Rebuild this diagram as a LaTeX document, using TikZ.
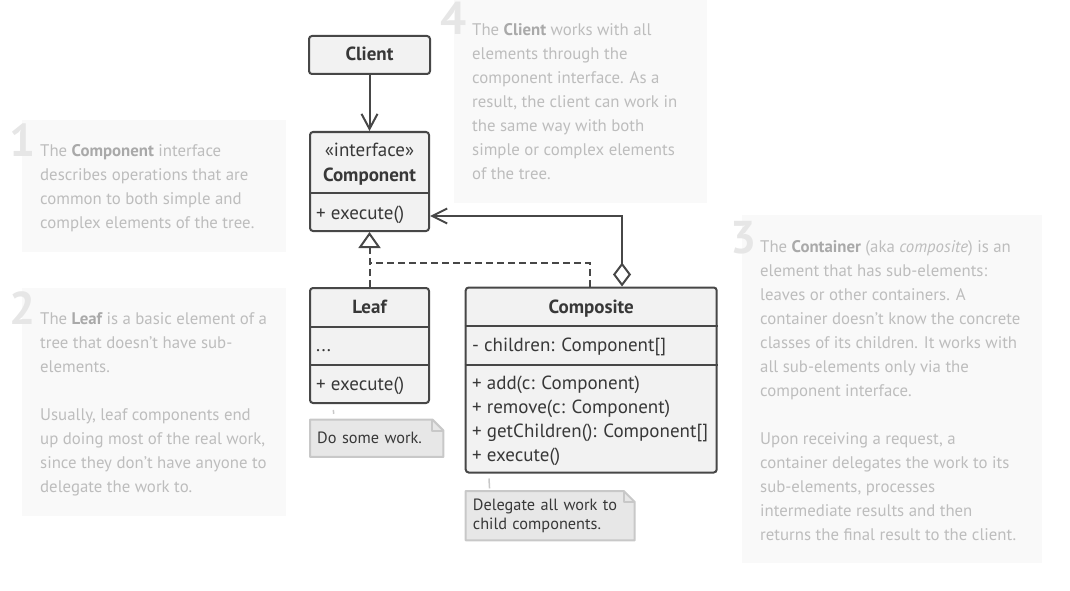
\documentclass[tikz,border=0pt]{standalone}
\usepackage{fontspec}
\setmainfont{PT Sans}
\usetikzlibrary{arrows.meta,positioning,backgrounds}
\definecolor{umlline}{HTML}{474747}
\definecolor{umltext}{HTML}{383838}
\definecolor{umlfill}{HTML}{F2F2F2}
\definecolor{notefill}{HTML}{E7E7E7}
\definecolor{noteline}{HTML}{C8C8C8}
\definecolor{panelfill}{HTML}{F9F9F9}
\definecolor{paneltext}{HTML}{BDBDBD}
\definecolor{panelbold}{HTML}{A9A9A9}
\definecolor{panelnum}{HTML}{E6E6E6}
\newcommand{\kw}[1]{{\bfseries\color{panelbold}#1}}
\newcommand{\notefold}[1]{%
\begin{scope}[on background layer]
\draw[notepath] (#1.north west) -- ([xshift=-11pt]#1.north east) -- ([yshift=-11pt]#1.north east) -- (#1.south east) -- (#1.south west) -- cycle;
\draw[notepath,fill=none] ([xshift=-11pt]#1.north east) |- ([yshift=-11pt]#1.north east);
\end{scope}}

\begin{document}
\begin{tikzpicture}[x=1pt,y=-1pt,
classbox/.style={draw=umlline,line width=2pt,fill=umlfill,rounded corners=3pt,inner sep=0pt},
classline/.style={draw=umlline,line width=2pt},
umlfont/.style={font=\fontsize{19}{24}\selectfont,text=umltext,inner sep=0pt},
umlbold/.style={umlfont,font=\fontsize{19}{24}\selectfont\bfseries},
members/.style={umlfont,align=left,anchor=north west},
assoc/.style={draw=umlline,line width=2pt,-{Straight Barb[length=15pt,width=16pt]}},
aggr/.style={draw=umlline,line width=2pt,{Diamond[open,length=24pt,width=18pt]}-{Straight Barb[length=15pt,width=15pt]}},
realize/.style={draw=umlline,line width=2pt,dash pattern=on 7pt off 4pt},
notebox/.style={font=\fontsize{16.3}{18.5}\selectfont,text=umltext,align=left,inner xsep=7pt,inner ysep=0pt,anchor=north west},
notepath/.style={draw=noteline,fill=notefill,line width=2pt,line join=round},
notelink/.style={draw=noteline,line width=1.5pt,dash pattern=#1},
desc/.style={font=\fontsize{16.8}{24}\selectfont,text=paneltext,align=left,anchor=north west,inner sep=0pt},
numfont/.style={font=\fontsize{46}{46}\selectfont\bfseries,text=panelnum,inner sep=0pt,anchor=base east}]
\useasboundingbox (0,0) rectangle (1070,591);

\fill[panelfill] (22,120) rectangle (286,252);
\fill[panelfill] (22,288) rectangle (286,516);
\fill[panelfill] (742,215) rectangle (1042,563);
\fill[panelfill] (454,0) rectangle (707,203);

\node[numfont] (num1) at (36,156) {1};
\node[desc] (desc1) at (40,144) {The \kw{Component} interface\\ describes operations that are\\ common to both simple and\\ complex elements of the tree.};
\node[numfont] (num2) at (36,324) {2};
\node[desc] (desc2) at (40,312) {The \kw{Leaf} is a basic element of a\\ tree that doesn't have sub-\\ elements.\\[24pt] Usually, leaf components end\\ up doing most of the real work,\\ since they don't have anyone to\\ delegate the work to.};
\node[numfont] (num3) at (757,253.5) {3};
\node[desc] (desc3) at (760,240.6) {The \kw{Container} (aka \textit{composite}) is an\\ element that has sub-elements:\\ leaves or other containers. A\\ container doesn't know the concrete\\ classes of its children. It works with\\ all sub-elements only via the\\ component interface.\\[24pt] Upon receiving a request, a\\ container delegates the work to its\\ sub-elements, processes\\ intermediate results and then\\ returns the final result to the client.};
\node[numfont] (num4) at (467,35) {4};
\node[desc] (desc4) at (472,23) {The \kw{Client} works with all\\ elements through the\\ component interface. As a\\ result, the client can work in\\ the same way with both\\ simple or complex elements\\ of the tree.};

\node[classbox,minimum width=121pt,minimum height=38pt] (client) at (369.5,55) {};
\node[umlbold,anchor=base] (client-name) at (369.5,61) {Client};

\node[classbox,minimum width=119pt,minimum height=99pt] (component) at (369.5,181.5) {};
\draw[classline] (component.west |- 0,193) -- (component.east |- 0,193);
\node[umlfont,anchor=base] (component-stereo) at (369.5,156) {«interface»};
\node[umlbold,anchor=base] (component-name) at (369.5,181.5) {Component};
\node[umlfont,anchor=base west] (component-ops) at (316,219) {+ execute()};

\node[classbox,minimum width=119pt,minimum height=115pt] (leaf) at (369.5,345.5) {};
\draw[classline] (leaf.west |- 0,326.5) -- (leaf.east |- 0,326.5);
\draw[classline] (leaf.west |- 0,364.5) -- (leaf.east |- 0,364.5);
\node[umlbold,anchor=base] (leaf-name) at (369.5,313) {Leaf};
\node[umlfont,anchor=base west] (leaf-fields) at (316,351) {...};
\node[umlfont,anchor=base west] (leaf-ops) at (316,390) {+ execute()};

\node[classbox,minimum width=251pt,minimum height=185pt] (composite) at (591.2,380) {};
\draw[classline] (composite.west |- 0,326) -- (composite.east |- 0,326);
\draw[classline] (composite.west |- 0,364.5) -- (composite.east |- 0,364.5);
\node[umlbold,anchor=base] (composite-name) at (591.2,313) {Composite};
\node[umlfont,anchor=base west] (composite-fields) at (472,351.5) {- children: Component[]};
\node[members] (composite-ops) at (472,375.4) {+ add(c: Component)\\ + remove(c: Component)\\ + getChildren(): Component[]\\ + execute()};

\draw[assoc] (client) -- (component);
\draw[realize,-{Triangle[open,length=16pt,width=22pt]}] (leaf) -- (component);
\coordinate (split) at (369.5,263);
\draw[realize] ([xshift=-1.2pt]composite.north) |- (split);
\draw[aggr] ([xshift=30.8pt]composite.north) |- ([yshift=-34.5pt]component.east);

\node[notebox,text width=119pt,minimum height=37pt] (leafnote) at (310,419.5) {Do some work.};
\notefold{leafnote}
\draw[notelink={on 0pt off 6pt on 4pt off 30pt}] ([xshift=24pt]leaf.south west) -- ([xshift=24pt]leafnote.north west);

\node[notebox,text width=154.6pt,minimum height=49pt] (delegnote) at (465.7,491) {Delegate all work to\\ child components.};
\notefold{delegnote}
\draw[notelink={on 0pt off 5pt on 10pt off 30pt}] ([xshift=24pt]composite.south west) -- ([xshift=24pt]delegnote.north west);
\end{tikzpicture}
\end{document}
